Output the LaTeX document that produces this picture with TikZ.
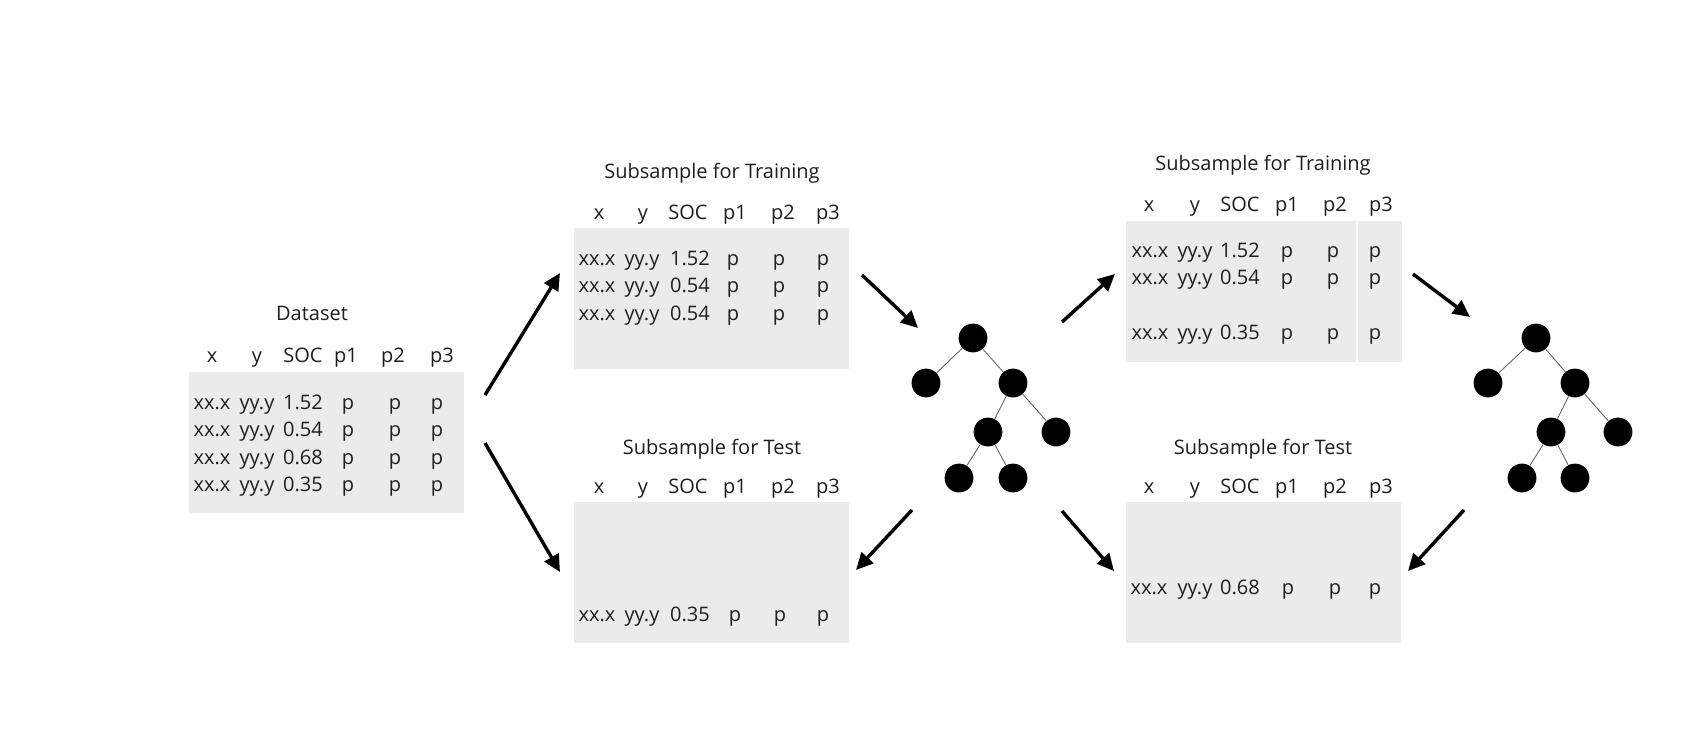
\documentclass[tikz,border=0pt]{standalone}
\usepackage{fontspec}
\setmainfont{Open Sans}
\usetikzlibrary{arrows.meta}
\definecolor{boxgray}{HTML}{EBEBEB}
\definecolor{txt}{HTML}{1E1E1E}
\tikzset{
  tbl/.style={fill=boxgray, draw=none},
  cell/.style={anchor=base, inner sep=0pt, font=\fontsize{10pt}{12pt}\selectfont, text=txt},
  ttl/.style={anchor=base, inner sep=0pt, font=\fontsize{10pt}{12pt}\selectfont, text=txt},
  leaf/.style={circle, fill=black, draw=none, minimum size=14.4pt, inner sep=0pt},
  edge/.style={draw=black!60, line width=0.45pt},
  arr/.style={draw=black, line width=1.7pt, -{Triangle[length=8.5pt,width=8pt]}, shorten >=0pt}
}
\begin{document}
\begin{tikzpicture}[x=0.5pt,y=-0.5pt]
\useasboundingbox[fill=white] (0,0) rectangle (1698,734);

% ---------- Dataset ----------
\path[tbl] (189,372) rectangle (464,513);
\node[ttl] (dtitle) at (312,320) {Dataset};
\foreach \t/\x [count=\i] in {x/212,y/257,SOC/303,p1/346,p2/393,p3/442}
  \node[cell] (dh\i) at (\x,362) {\t};
\foreach \r/\v/\yy in {1/1.52/409,2/0.54/436,3/0.68/464,4/0.35/491}{
  \node[cell] (dr\r a) at (212,\yy) {xx.x};
  \node[cell] (dr\r b) at (257,\yy) {yy.y};
  \node[cell] (dr\r c) at (303,\yy) {\v};
  \node[cell] (dr\r d) at (348,\yy) {p};
  \node[cell] (dr\r e) at (395,\yy) {p};
  \node[cell] (dr\r f) at (437,\yy) {p};
}

% ---------- Training 1 ----------
\path[tbl] (574,228) rectangle (849,369);
\node[ttl] (t1title) at (712,178) {Subsample for Training};
\foreach \t/\x [count=\i] in {x/599,y/643,SOC/688,p1/735,p2/783,p3/828}
  \node[cell] (t1h\i) at (\x,219) {\t};
\foreach \r/\v/\yy in {1/1.52/265,2/0.54/292,3/0.54/320}{
  \node[cell] (t1r\r a) at (597,\yy) {xx.x};
  \node[cell] (t1r\r b) at (642,\yy) {yy.y};
  \node[cell] (t1r\r c) at (690,\yy) {\v};
  \node[cell] (t1r\r d) at (733,\yy) {p};
  \node[cell] (t1r\r e) at (779,\yy) {p};
  \node[cell] (t1r\r f) at (823,\yy) {p};
}

% ---------- Test 1 ----------
\path[tbl] (574,502) rectangle (849,643);
\node[ttl] (s1title) at (712,454) {Subsample for Test};
\foreach \t/\x [count=\i] in {x/599,y/643,SOC/688,p1/735,p2/783,p3/828}
  \node[cell] (s1h\i) at (\x,493) {\t};
\node[cell] (s1ra) at (597,621) {xx.x};
\node[cell] (s1rb) at (642,621) {yy.y};
\node[cell] (s1rc) at (690,621) {0.35};
\node[cell] (s1rd) at (735,621) {p};
\node[cell] (s1re) at (780,621) {p};
\node[cell] (s1rf) at (823,621) {p};

% ---------- Training 2 ----------
\path[tbl] (1126,221) rectangle (1402,362);
\draw[white, line width=0.8pt, opacity=0.8] (1357,221) -- (1357,362);
\node[ttl] (t2title) at (1263,170) {Subsample for Training};
\foreach \t/\x [count=\i] in {x/1149,y/1195,SOC/1240,p1/1287,p2/1335,p3/1381}
  \node[cell] (t2h\i) at (\x,211) {\t};
\foreach \r/\v/\yy in {1/1.52/257,2/0.54/284,3/0.35/339}{
  \node[cell] (t2r\r a) at (1150,\yy) {xx.x};
  \node[cell] (t2r\r b) at (1195,\yy) {yy.y};
  \node[cell] (t2r\r c) at (1240,\yy) {\v};
  \node[cell] (t2r\r d) at (1287,\yy) {p};
  \node[cell] (t2r\r e) at (1333,\yy) {p};
  \node[cell] (t2r\r f) at (1375,\yy) {p};
}

% ---------- Test 2 ----------
\path[tbl] (1126,502) rectangle (1401,643);
\node[ttl] (s2title) at (1263,454) {Subsample for Test};
\foreach \t/\x [count=\i] in {x/1149,y/1195,SOC/1240,p1/1287,p2/1335,p3/1381}
  \node[cell] (s2h\i) at (\x,493) {\t};
\node[cell] (s2ra) at (1149,594) {xx.x};
\node[cell] (s2rb) at (1195,594) {yy.y};
\node[cell] (s2rc) at (1240,594) {0.68};
\node[cell] (s2rd) at (1288,594) {p};
\node[cell] (s2re) at (1335,594) {p};
\node[cell] (s2rf) at (1375,594) {p};

% ---------- Tree 1 ----------
\node[leaf] (ta) at (973,338) {};
\node[leaf] (tb) at (926,383) {};
\node[leaf] (tc) at (1013,383) {};
\node[leaf] (td) at (988,432) {};
\node[leaf] (te) at (1056,432) {};
\node[leaf] (tf) at (959,478) {};
\node[leaf] (tg) at (1013,478) {};
\path[edge] (ta) -- (tb);
\path[edge] (ta) -- (tc);
\path[edge] (tc) -- (td);
\path[edge] (tc) -- (te);
\path[edge] (td) -- (tf);
\path[edge] (td) -- (tg);

% ---------- Tree 2 ----------
\node[leaf] (ua) at (1536,338) {};
\node[leaf] (ub) at (1488,383) {};
\node[leaf] (uc) at (1575,383) {};
\node[leaf] (ud) at (1551,432) {};
\node[leaf] (ue) at (1618,432) {};
\node[leaf] (uf) at (1522,478) {};
\node[leaf] (ug) at (1575,478) {};
\path[edge] (ua) -- (ub);
\path[edge] (ua) -- (uc);
\path[edge] (uc) -- (ud);
\path[edge] (uc) -- (ue);
\path[edge] (ud) -- (uf);
\path[edge] (ud) -- (ug);

% ---------- Arrows ----------
\coordinate (a1s) at (485,395);  \coordinate (a1e) at (560,273);
\coordinate (a2s) at (485,443);  \coordinate (a2e) at (560,572);
\coordinate (a3s) at (862,275);  \coordinate (a3e) at (918,328);
\coordinate (a4s) at (912,510);  \coordinate (a4e) at (856,570);
\coordinate (a5s) at (1062,322); \coordinate (a5e) at (1115,274);
\coordinate (a6s) at (1062,511); \coordinate (a6e) at (1114,571);
\coordinate (a7s) at (1413,274); \coordinate (a7e) at (1470,317);
\coordinate (a8s) at (1464,510); \coordinate (a8e) at (1408,571);
\draw[arr] (a1s) -- (a1e);
\draw[arr] (a2s) -- (a2e);
\draw[arr] (a3s) -- (a3e);
\draw[arr] (a4s) -- (a4e);
\draw[arr] (a5s) -- (a5e);
\draw[arr] (a6s) -- (a6e);
\draw[arr] (a7s) -- (a7e);
\draw[arr] (a8s) -- (a8e);
\end{tikzpicture}
\end{document}
